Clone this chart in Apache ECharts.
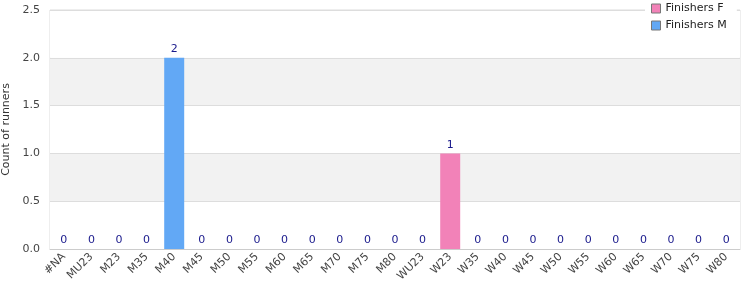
<!DOCTYPE html>
<html><head><meta charset="utf-8">
<script src="https://cdn.jsdelivr.net/npm/echarts@6/dist/echarts.min.js"></script>
<style>html,body{margin:0;padding:0;background:#fff}#c{width:750px;height:300px}</style>
</head><body><div id="c"></div>
<script>
var categories = ['#NA','MU23','M23','M35','M40','M45','M50','M55','M60','M65','M70','M75','M80','WU23','W23','W35','W40','W45','W50','W55','W60','W65','W70','W75','W80'];
var finishersF = [0,0,0,0,0,0,0,0,0,0,0,0,0,0,1,0,0,0,0,0,0,0,0,0,0];
var finishersM = [0,0,0,0,2,0,0,0,0,0,0,0,0,0,0,0,0,0,0,0,0,0,0,0,0];
var yTicks = {min:0, max:2.5, interval:0.5};
var totals = categories.map(function(_, i){ return finishersF[i] + finishersM[i]; });

var chart = echarts.init(document.getElementById('c'), null, {renderer:'canvas'});
chart.setOption({
  animation:false,
  textStyle:{fontFamily:'DejaVu Sans'},
  grid:{left:50, right:10, top:10, bottom:51, show:true, borderColor:'#ddd', borderWidth:1,
        containLabel:false, outerBoundsMode:'none'},
  legend:{
    orient:'vertical', left:645, top:1, itemWidth:9, itemHeight:9, itemGap:6,
    backgroundColor:'#fff', padding:[2,10,2,6],
    data:[{name:'Finishers F', icon:'rect'},{name:'Finishers M', icon:'rect'}],
    itemStyle:{borderColor:'#777', borderWidth:1},
    textStyle:{fontSize:11, color:'#222', fontFamily:'DejaVu Sans'}
  },
  xAxis:{
    type:'category', data:categories,
    axisLine:{lineStyle:{color:'#ccc'}}, axisTick:{show:false},
    axisLabel:{rotate:45, interval:0, fontSize:11, color:'#444', margin:6, fontFamily:'DejaVu Sans'}
  },
  yAxis:{
    type:'value', min:yTicks.min, max:yTicks.max, interval:yTicks.interval,
    name:'Count of runners', nameLocation:'middle', nameGap:38,
    nameTextStyle:{fontSize:11, color:'#333'},
    axisLine:{show:false}, axisTick:{show:false},
    axisLabel:{fontSize:11, color:'#444', margin:10, formatter:function(v){return v.toFixed(1);}},
    splitLine:{lineStyle:{color:'#ddd'}},
    splitArea:{show:true, areaStyle:{color:['#fff','#f2f2f2']}}
  },
  series:[
    {name:'Finishers F', type:'bar', stack:'a', data:finishersF, barWidth:20,
     itemStyle:{color:'#f282b8'}},
    {name:'Finishers M', type:'bar', stack:'a', data:finishersM, barWidth:20,
     itemStyle:{color:'#62a8f5'}},
    {name:'total', type:'bar', data:totals, barWidth:20, barGap:'-100%',
     itemStyle:{color:'transparent'}, silent:true,
     label:{show:true, position:'top', distance:3, color:'#1a1a8c', fontSize:11}}
  ]
});
</script></body></html>
